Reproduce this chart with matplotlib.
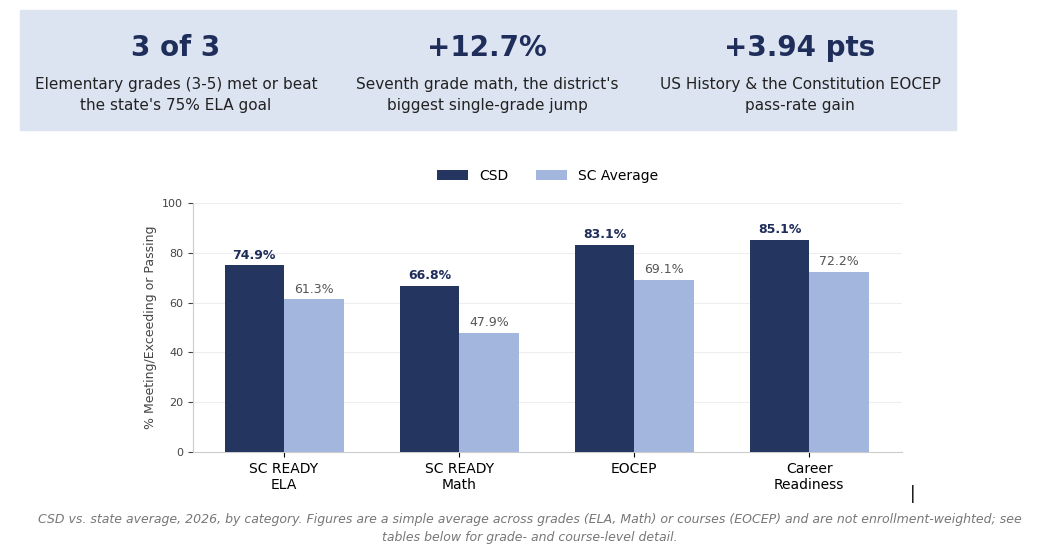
import matplotlib.pyplot as plt
import numpy as np
from matplotlib.patches import Rectangle

categories = ['SC READY\nELA', 'SC READY\nMath', 'EOCEP', 'Career\nReadiness']
csd = [74.9, 66.8, 83.1, 85.1]
sc_avg = [61.3, 47.9, 69.1, 72.2]

navy = '#243560'
light = '#a3b6dd'

W, H = 1043, 556
fig = plt.figure(figsize=(W / 100, H / 100), dpi=100)

# banner
fig.patches.append(Rectangle((20 / W, 1 - 130 / H), 936 / W, 120 / H,
                             transform=fig.transFigure, color='#dce3f1', zorder=0))
cards = [
    (176, '3 of 3', "Elementary grades (3-5) met or beat\nthe state's 75% ELA goal"),
    (487, '+12.7%', "Seventh grade math, the district's\nbiggest single-grade jump"),
    (800, '+3.94 pts', "US History & the Constitution EOCEP\npass-rate gain"),
]
for cx, big, small in cards:
    fig.text(cx / W, 1 - 48 / H, big, ha='center', va='center', fontsize=20,
             fontweight='bold', color='#1f2d5a')
    fig.text(cx / W, 1 - 95 / H, small, ha='center', va='center', fontsize=11,
             color='#222222', linespacing=1.5)

# chart
ax = fig.add_axes([193 / W, 1 - 452 / H, 709 / W, 249 / H])
x = np.arange(len(categories))
w = 0.34
b1 = ax.bar(x - w / 2, csd, w, color=navy, label='CSD', zorder=3)
b2 = ax.bar(x + w / 2, sc_avg, w, color=light, label='SC Average', zorder=3)
for r, v in zip(b1, csd):
    ax.text(r.get_x() + r.get_width() / 2, v + 1.5, f'{v}%', ha='center', va='bottom',
            fontsize=9, fontweight='bold', color='#1f2d5a')
for r, v in zip(b2, sc_avg):
    ax.text(r.get_x() + r.get_width() / 2, v + 1.5, f'{v}%', ha='center', va='bottom',
            fontsize=9, color='#555555')
ax.set_ylim(0, 100)
ax.set_xlim(-0.52, 3.53)
ax.set_yticks(range(0, 101, 20))
ax.set_xticks(x)
ax.set_xticklabels(categories, fontsize=10)
ax.tick_params(axis='y', labelsize=8, colors='#444444')
ax.set_ylabel('% Meeting/Exceeding or Passing', fontsize=9, color='#444444')
ax.grid(axis='y', color='#eeeeee', zorder=0)
for s in ['top', 'right']:
    ax.spines[s].set_visible(False)
for s in ['left', 'bottom']:
    ax.spines[s].set_color('#cccccc')
ax.legend(loc='lower center', bbox_to_anchor=(0.5, 1.03), ncol=2, frameon=False,
          fontsize=10, handlelength=2.2, columnspacing=2)

fig.text(913 / W, 1 - 494 / H, '|', ha='center', va='center', fontsize=12, color='black')
fig.text(530 / W, 1 - 529 / H,
         'CSD vs. state average, 2026, by category. Figures are a simple average across grades (ELA, Math) or courses (EOCEP) and are not enrollment-weighted; see\ntables below for grade- and course-level detail.',
         ha='center', va='center', fontsize=9, style='italic', color='#777777', linespacing=1.5)

fig.savefig('out.png', dpi=100)
